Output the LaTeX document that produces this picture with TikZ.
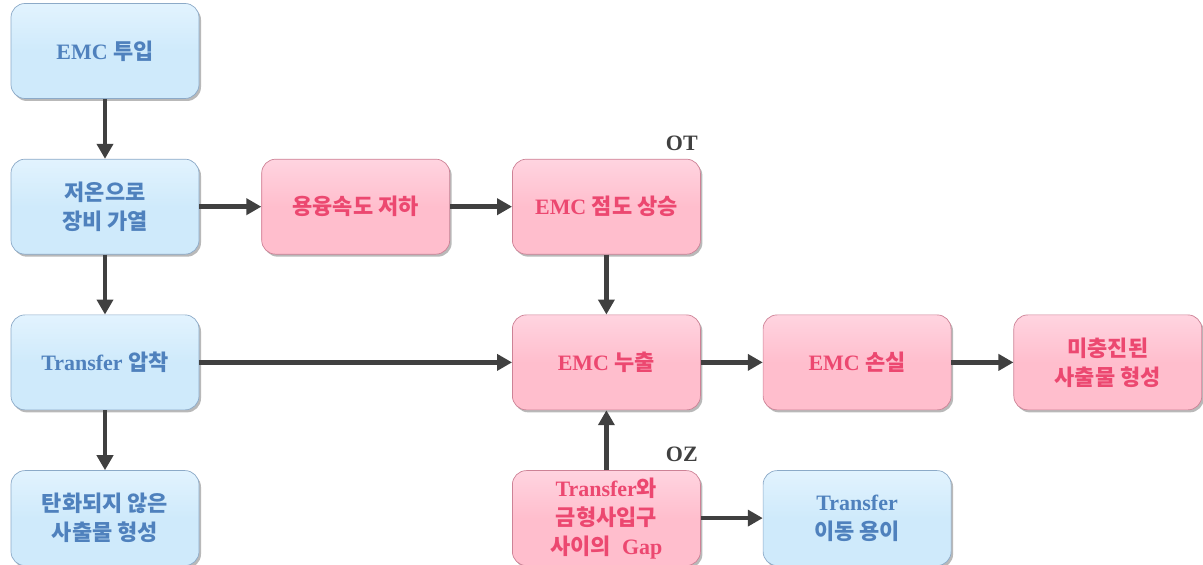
\documentclass[tikz,border=0pt]{standalone}
\usepackage{fontspec}
\setmainfont{Liberation Serif}
\newfontfamily\kr{Noto Sans CJK KR}
\usetikzlibrary{positioning,arrows.meta,shadows}

\definecolor{bluefill}{RGB}{207,234,251}
\definecolor{bluetop}{RGB}{226,243,254}
\definecolor{blueline}{RGB}{140,170,200}
\definecolor{bluetext}{RGB}{79,129,189}
\definecolor{pinkfill}{RGB}{255,190,205}
\definecolor{pinktop}{RGB}{255,212,224}
\definecolor{pinkline}{RGB}{205,130,150}
\definecolor{pinktext}{RGB}{236,72,112}
\definecolor{arrowgray}{RGB}{64,64,64}

\tikzset{
    box/.style={rounded corners=0.28cm, minimum width=3.76cm, minimum height=1.9cm,
        align=center, font=\fontsize{12.5}{16.5}\selectfont\bfseries,
        drop shadow={shadow xshift=0.04cm, shadow yshift=-0.05cm, opacity=0.55}},
    bluebox/.style={box, draw=blueline, top color=bluetop, bottom color=bluefill,
        middle color=bluefill, text=bluetext},
    pinkbox/.style={box, draw=pinkline, top color=pinktop, bottom color=pinkfill,
        middle color=pinkfill, text=pinktext},
    flow/.style={draw=arrowgray, line width=2.6pt, -{Triangle[length=0.3cm, width=0.32cm]}},
    tag/.style={font=\fontsize{12.5}{14}\selectfont\bfseries, text=arrowgray, inner sep=1pt}
}

\begin{document}
\begin{tikzpicture}
    \useasboundingbox (0, 0) rectangle (24.06, 11.3);
    % left column
    \node[bluebox] (input) at (2.1, 10.28) {EMC {\kr 투입}};
    \node[bluebox, below=1.2cm of input] (heat) {{\kr 저온으로}\\{\kr 장비 가열}};
    \node[bluebox, below=1.2cm of heat] (press) {Transfer {\kr 압착}};
    \node[bluebox, below=1.2cm of press] (uncured) {{\kr 탄화되지 않은}\\{\kr 사출물 형성}};
    % upper row
    \node[pinkbox, right=1.24cm of heat] (melt) {{\kr 용융속도 저하}};
    \node[pinkbox, right=1.24cm of melt] (visc) {EMC {\kr 점도 상승}};
    % middle row
    \node[pinkbox, below=1.2cm of visc] (leak) {EMC {\kr 누출}};
    \node[pinkbox, right=1.24cm of leak] (loss) {EMC {\kr 손실}};
    \node[pinkbox, right=1.24cm of loss] (short) {{\kr 미충진된}\\{\kr 사출물 형성}};
    % bottom row
    \node[pinkbox, below=1.2cm of leak] (gap) {Transfer{\kr 와}\\{\kr 금형사입구}\\{\kr 사이의}\ \ Gap};
    \node[bluebox, right=1.24cm of gap] (move) {Transfer\\{\kr 이동 용이}};
    % tags
    \node[tag, above left=0.12cm and 0.02cm of visc.north east, anchor=south east] (ot) {OT};
    \node[tag, above left=0.12cm and 0.02cm of gap.north east, anchor=south east] (oz) {OZ};
    % arrows
    \draw[flow] (input) -- (heat);
    \draw[flow] (heat) -- (press);
    \draw[flow] (press) -- (uncured);
    \draw[flow] (heat) -- (melt);
    \draw[flow] (melt) -- (visc);
    \draw[flow] (visc) -- (leak);
    \draw[flow] (press) -- (leak);
    \draw[flow] (gap) -- (leak);
    \draw[flow] (leak) -- (loss);
    \draw[flow] (loss) -- (short);
    \draw[flow] (gap) -- (move);
\end{tikzpicture}
\end{document}
